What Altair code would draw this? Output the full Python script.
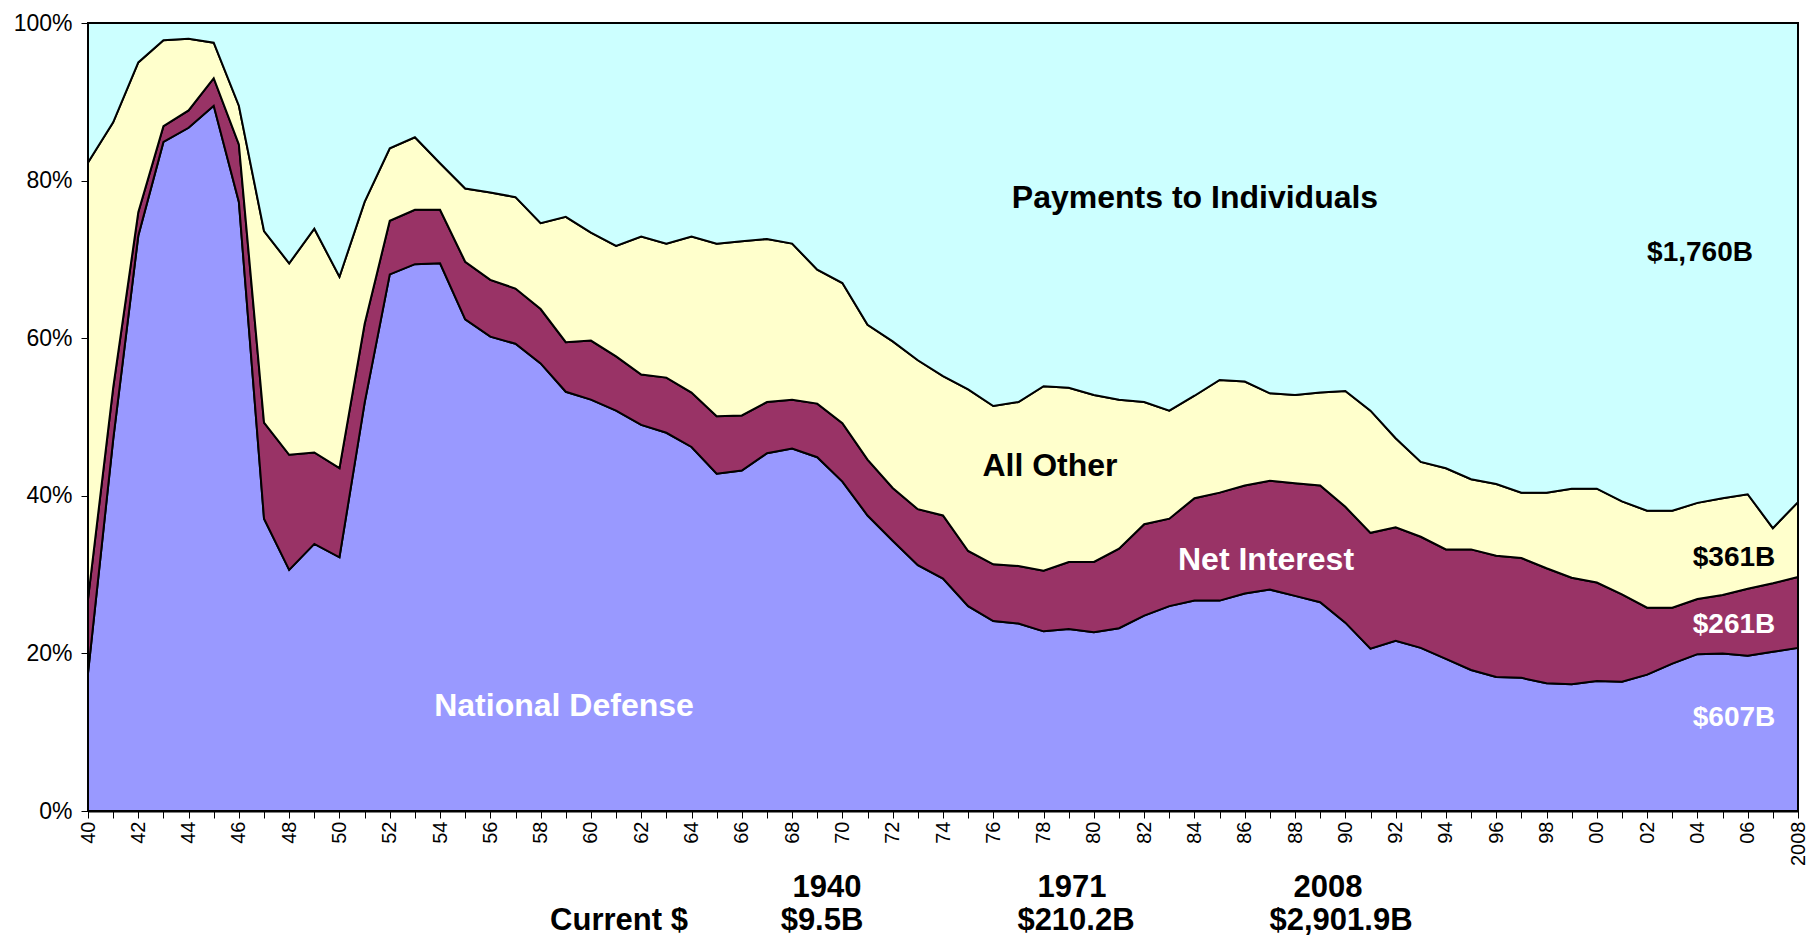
import altair as alt
import pandas as pd

# ---------------- data (percent of total outlays) ----------------
years = list(range(1940, 2009))

national_defense = [
    17.5, 47.1, 73.0, 84.9, 86.7, 89.5, 77.3, 37.1, 30.6, 33.9,
    32.2, 51.8, 68.1, 69.4, 69.5, 62.4, 60.2, 59.3, 56.8, 53.2,
    52.2, 50.8, 49.0, 48.0, 46.2, 42.8, 43.2, 45.4, 46.0, 44.9,
    41.8, 37.5, 34.3, 31.2, 29.5, 26.0, 24.1, 23.8, 22.8, 23.1,
    22.7, 23.2, 24.8, 26.0, 26.7, 26.7, 27.6, 28.1, 27.3, 26.5,
    23.9, 20.6, 21.6, 20.7, 19.3, 17.9, 17.0, 16.9, 16.2, 16.1,
    16.5, 16.4, 17.3, 18.7, 19.9, 20.0, 19.7, 20.2, 20.7,
]

net_interest = [
    9.4, 6.6, 3.0, 2.0, 2.2, 3.5, 7.3, 12.2, 14.6, 11.6,
    11.3, 10.0, 6.8, 6.9, 6.8, 7.3, 7.2, 7.0, 6.9, 6.3,
    7.5, 6.9, 6.4, 7.0, 6.9, 7.3, 7.0, 6.5, 6.2, 6.8,
    7.4, 7.1, 6.7, 7.1, 8.0, 7.0, 7.2, 7.3, 7.7, 8.5,
    8.9, 10.1, 11.6, 11.1, 13.0, 13.7, 13.7, 13.8, 14.3, 14.8,
    14.7, 14.7, 14.4, 14.1, 13.9, 15.3, 15.4, 15.2, 14.6, 13.5,
    12.5, 11.1, 8.5, 7.1, 7.0, 7.4, 8.5, 8.7, 9.0,
]

all_other = [
    55.4, 33.7, 19.0, 10.9, 9.1, 4.5, 4.9, 24.3, 24.3, 28.4,
    24.3, 15.5, 9.2, 9.2, 5.9, 9.3, 11.1, 11.6, 10.9, 15.9,
    13.7, 14.0, 17.5, 17.0, 19.8, 21.9, 22.1, 20.7, 19.8, 17.0,
    17.8, 17.1, 18.6, 18.9, 17.7, 20.5, 20.1, 20.8, 23.4, 22.1,
    21.2, 18.9, 15.5, 13.7, 13.0, 14.3, 13.2, 11.1, 11.2, 11.8,
    14.7, 15.5, 11.3, 9.5, 10.3, 8.9, 9.1, 8.3, 9.6, 11.3,
    11.9, 11.8, 12.3, 12.3, 12.2, 12.3, 12.0, 7.0, 9.5,
]

payments_to_individuals = [
    17.7, 12.6, 5.0, 2.2, 2.0, 2.5, 10.5, 26.4, 30.5, 26.1,
    32.2, 22.7, 15.9, 14.5, 17.8, 21.0, 21.5, 22.1, 25.4, 24.6,
    26.6, 28.3, 27.1, 28.0, 27.1, 28.0, 27.7, 27.4, 28.0, 31.3,
    33.0, 38.3, 40.4, 42.8, 44.8, 46.5, 48.6, 48.1, 46.1, 46.3,
    47.2, 47.8, 48.1, 49.2, 47.3, 45.3, 45.5, 47.0, 47.2, 46.9,
    46.7, 49.2, 52.7, 55.7, 56.5, 57.9, 58.5, 59.6, 59.6, 59.1,
    59.1, 60.7, 61.9, 61.9, 60.9, 60.3, 59.8, 64.1, 60.8,
]

series_names = ["National Defense", "Net Interest", "All Other", "Payments to Individuals"]
series_colors = ["#9999FF", "#993366", "#FFFFCC", "#CCFFFF"]
series_values = [national_defense, net_interest, all_other, payments_to_individuals]

rows = []
for rank, (name, vals) in enumerate(zip(series_names, series_values)):
    for yr, v in zip(years, vals):
        rows.append({"year": yr, "series": name, "rank": rank, "share": v})
df = pd.DataFrame(rows)

FONT = "Liberation Sans"
W, H = 1710, 788

x_label_expr = (
    "datum.value % 2 == 0 ? (datum.value == 2008 ? '2008' : "
    "slice(toString(datum.value), 2)) : ''"
)

area = alt.Chart(df).mark_area(stroke="black", strokeWidth=2, strokeJoin="miter").encode(
    x=alt.X(
        "year:Q",
        scale=alt.Scale(domain=[1940, 2008], nice=False, zero=False),
        axis=alt.Axis(
            title=None, values=years, labelExpr=x_label_expr, labelAngle=270,
            labelFontSize=20, labelColor="black", labelOverlap=False, labelFlush=False,
            labelPadding=3, tickSize=7, tickColor="black", tickWidth=1,
            domainColor="black", domainWidth=2, grid=False,
        ),
    ),
    y=alt.Y(
        "share:Q",
        stack="zero",
        scale=alt.Scale(domain=[0, 100], nice=False),
        axis=alt.Axis(
            title=None, values=[0, 20, 40, 60, 80, 100], labelExpr="datum.value + '%'",
            labelFontSize=23, labelColor="black", labelPadding=9, tickSize=7,
            tickColor="black", tickWidth=1, domainColor="black", domainWidth=2, grid=False,
        ),
    ),
    color=alt.Color("series:N", scale=alt.Scale(domain=series_names, range=series_colors)),
    order=alt.Order("rank:Q", sort="ascending"),
)


def label(text, px, py, size, color, baseline="middle"):
    return alt.Chart(pd.DataFrame({"label": [text]})).mark_text(
        align="center", baseline=baseline, font=FONT, fontSize=size,
        fontWeight="bold", color=color,
    ).encode(x=alt.value(px), y=alt.value(py), text="label:N")


labels = [
    label("Payments to Individuals", 1107, 175, 32, "black"),
    label("All Other", 962, 443, 32, "black"),
    label("Net Interest", 1178, 537, 32, "white"),
    label("National Defense", 476, 683, 32, "white"),
    label("$1,760B", 1612, 230, 28, "black"),
    label("$361B", 1646, 535, 28, "black"),
    label("$261B", 1646, 602, 28, "white"),
    label("$607B", 1646, 695, 28, "white"),
    label("1940", 739, 865, 31, "black"),
    label("1971", 984, 865, 31, "black"),
    label("2008", 1240, 865, 31, "black"),
    label("Current $", 531, 907, 31, "black", baseline="alphabetic"),
    label("$9.5B", 734, 907, 31, "black", baseline="alphabetic"),
    label("$210.2B", 988, 907, 31, "black", baseline="alphabetic"),
    label("$2,901.9B", 1253, 907, 31, "black", baseline="alphabetic"),
]

chart = alt.layer(area, *labels).properties(
    width=W,
    height=H,
    autosize=alt.AutoSizeParams(type="none"),
    padding={"left": 80, "top": 15, "right": 10, "bottom": 127},
    background="white",
).configure(font=FONT).configure_view(strokeWidth=0).configure_legend(disable=True)

chart.save("out.html", embed_options={"renderer": "svg", "actions": False})
